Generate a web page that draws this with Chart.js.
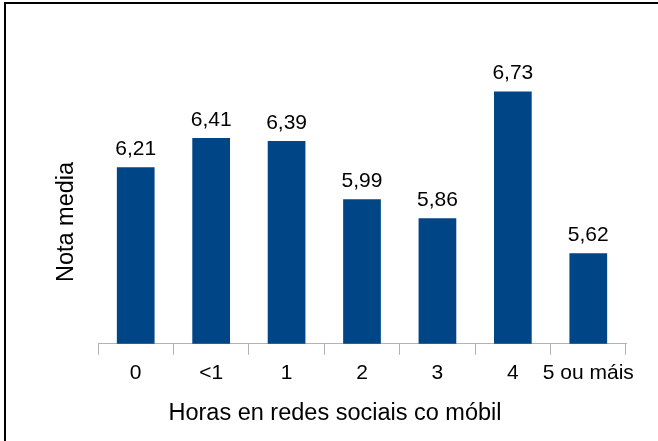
<!DOCTYPE html>
<html>
<head>
<meta charset="utf-8">
<script src="https://cdn.jsdelivr.net/npm/chart.js@4"></script>
<style>
  html, body { margin: 0; padding: 0; background: #fff; }
  #wrap { position: relative; width: 658px; height: 441px; overflow: hidden; }
  #frame { position: absolute; left: 4px; top: 2px; right: -10px; bottom: -10px;
           border-left: 2px solid #000; border-top: 2px solid #000; pointer-events: none; }
  canvas { display: block; }
</style>
</head>
<body>
<div id="wrap">
  <canvas id="myChart" width="658" height="441"></canvas>
  <div id="frame"></div>
</div>
<script>
const categories = ["0", "<1", "1", "2", "3", "4", "5 ou máis"];
const notaMedia = [6.21, 6.41, 6.39, 5.99, 5.86, 6.73, 5.62];
const xTitle = "Horas en redes sociais co móbil";
const yTitle = "Nota media";

const FONT = "'Liberation Sans', Arial, sans-serif";

// etiquetas de valor enriba de cada barra e títulos dos eixos
const labelsPlugin = {
  id: "labelsPlugin",
  afterDatasetsDraw(chart) {
    const ctx = chart.ctx;
    const meta = chart.getDatasetMeta(0);
    ctx.save();
    ctx.fillStyle = "#000";
    ctx.font = "21px " + FONT;
    ctx.textAlign = "center";
    ctx.textBaseline = "alphabetic";
    meta.data.forEach((bar, i) => {
      const txt = notaMedia[i].toFixed(2).replace(".", ",");
      ctx.fillText(txt, bar.x, bar.y - 12);
    });

    const area = chart.chartArea;
    ctx.font = "23.5px " + FONT;
    ctx.fillText(xTitle, area.left + 237, 420);

    ctx.translate(73, area.top + 170);
    ctx.rotate(-Math.PI / 2);
    ctx.fillText(yTitle, 0, 0);
    ctx.restore();
  }
};

const ctx = document.getElementById("myChart").getContext("2d");
new Chart(ctx, {
  type: "bar",
  data: {
    labels: categories,
    datasets: [
      {
        label: yTitle,
        data: notaMedia,
        backgroundColor: "#004586",
        borderWidth: 0,
        categoryPercentage: 1,
        barPercentage: 0.5,
      },
    ],
  },
  options: {
    responsive: false,
    animation: false,
    layout: { padding: { left: 98, right: 32, top: 52, bottom: 49 } },
    plugins: {
      legend: { display: false },
      tooltip: { enabled: false },
    },
    scales: {
      x: {
        grid: {
          drawOnChartArea: false,
          drawTicks: true,
          tickLength: 11,
          color: "#b3b3b3",
          offset: true,
        },
        border: { display: true, color: "#b3b3b3", width: 1 },
        ticks: {
          color: "#000",
          font: { family: FONT, size: 21 },
          padding: 6,
          maxRotation: 0,
          autoSkip: false,
        },
      },
      y: {
        display: false,
        min: 5,
        max: 7,
      },
    },
  },
  plugins: [labelsPlugin],
});
</script>
</body>
</html>
